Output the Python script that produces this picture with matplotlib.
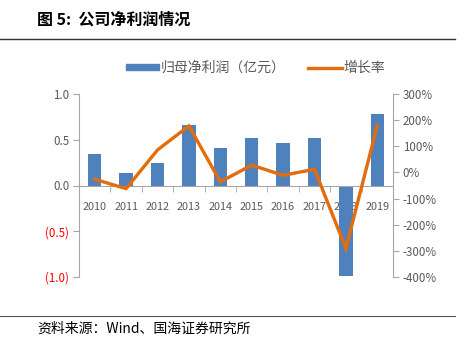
import matplotlib
matplotlib.use("Agg")
import matplotlib.pyplot as plt
from matplotlib.ticker import FixedLocator, FuncFormatter
from matplotlib.lines import Line2D
from matplotlib.patches import Patch
import numpy as np

plt.rcParams['font.family'] = ['Noto Sans CJK SC', 'DejaVu Sans']

years = ['2010', '2011', '2012', '2013', '2014', '2015', '2016', '2017', '2018', '2019']
profit = [0.34, 0.135, 0.245, 0.66, 0.41, 0.52, 0.46, 0.52, -0.99, 0.78]
growth = [-26, -62, 86, 178, -36, 28, -11, 12, -291, 180]

title = '图 5:  公司净利润情况'
source = '资料来源：Wind、国海证券研究所'
bar_label = '归母净利润（亿元）'
line_label = '增长率'

blue = '#4F81BD'
orange = '#E46C0A'
gray = '#595959'
axc = '#A6A6A6'

fig = plt.figure(figsize=(4.65, 3.44), dpi=100)
ax1 = fig.add_axes([79/465, 1-277/344, (393-79)/465, (277-94)/344])
ax2 = ax1.twinx()

x = np.arange(len(years))
ax1.bar(x, profit, width=0.43, color=blue, zorder=2)
ax2.plot(x, growth, color=orange, lw=2.4, zorder=3, solid_joinstyle='miter')

ax1.set_xlim(-0.5, len(years) - 0.5)
ax1.set_ylim(-1.0, 1.0)
ax2.set_ylim(-400, 300)

ax1.yaxis.set_major_locator(FixedLocator([-1.0, -0.5, 0.0, 0.5, 1.0]))
def lfmt(v, p):
    if v < 0:
        return '({:.1f})'.format(-v)
    return '{:.1f}'.format(v)
ax1.yaxis.set_major_formatter(FuncFormatter(lfmt))
ax2.yaxis.set_major_locator(FixedLocator(np.arange(-400, 301, 100)))
ax2.yaxis.set_major_formatter(FuncFormatter(lambda v, p: '{:.0f}%'.format(v)))

ax1.set_xticks(x)
ax1.set_xticklabels(years)
ax1.set_xticks(np.arange(-0.5, len(years), 1.0), minor=True)
ax1.tick_params(axis='x', which='major', length=0, labelsize=7.8, labelcolor=gray, pad=12)
ax1.tick_params(axis='x', which='minor', length=4, color=axc, direction='out')
ax1.tick_params(axis='y', length=4, color=axc, labelsize=8.3, labelcolor=gray, pad=3)
ax2.tick_params(axis='y', length=4, color=axc, labelsize=8.3, labelcolor=gray, pad=3)

for lbl, v in zip(ax1.get_yticklabels(), [-1.0, -0.5, 0.0, 0.5, 1.0]):
    if v < 0:
        lbl.set_color('red')

for a in (ax1, ax2):
    a.spines['top'].set_visible(False)
    a.spines['left'].set_color(axc)
    a.spines['right'].set_color(axc)
    a.spines['bottom'].set_visible(False)
ax1.spines['bottom'].set_visible(True)
ax1.spines['bottom'].set_position(('data', 0))
ax1.spines['bottom'].set_color(axc)
ax1.spines['right'].set_visible(False)
ax2.spines['left'].set_visible(False)
ax1.set_zorder(1)
ax2.set_zorder(2)
ax2.patch.set_visible(False)

handles = [Patch(color=blue), Line2D([0], [0], color=orange, lw=2.4)]
fig.legend(handles, [bar_label, line_label], loc='center', bbox_to_anchor=(255.5/465, 1-68/344),
           ncol=2, frameon=False, fontsize=10, handlelength=2.4, handleheight=0.36,
           columnspacing=1.6, labelcolor=gray, handletextpad=0.15)

fig.text(37/465, 1-20/344, title, fontsize=11.5, fontweight='bold', va='center', ha='left')
fig.add_artist(Line2D([0, 455/465], [1-39/344, 1-39/344], color='#333333', lw=1.0))
fig.add_artist(Line2D([0, 455/465], [1-316/344, 1-316/344], color='#555555', lw=0.8))
fig.text(37/465, 1-329/344, source, fontsize=10, va='center', ha='left')

fig.savefig('out.png', dpi=100)
